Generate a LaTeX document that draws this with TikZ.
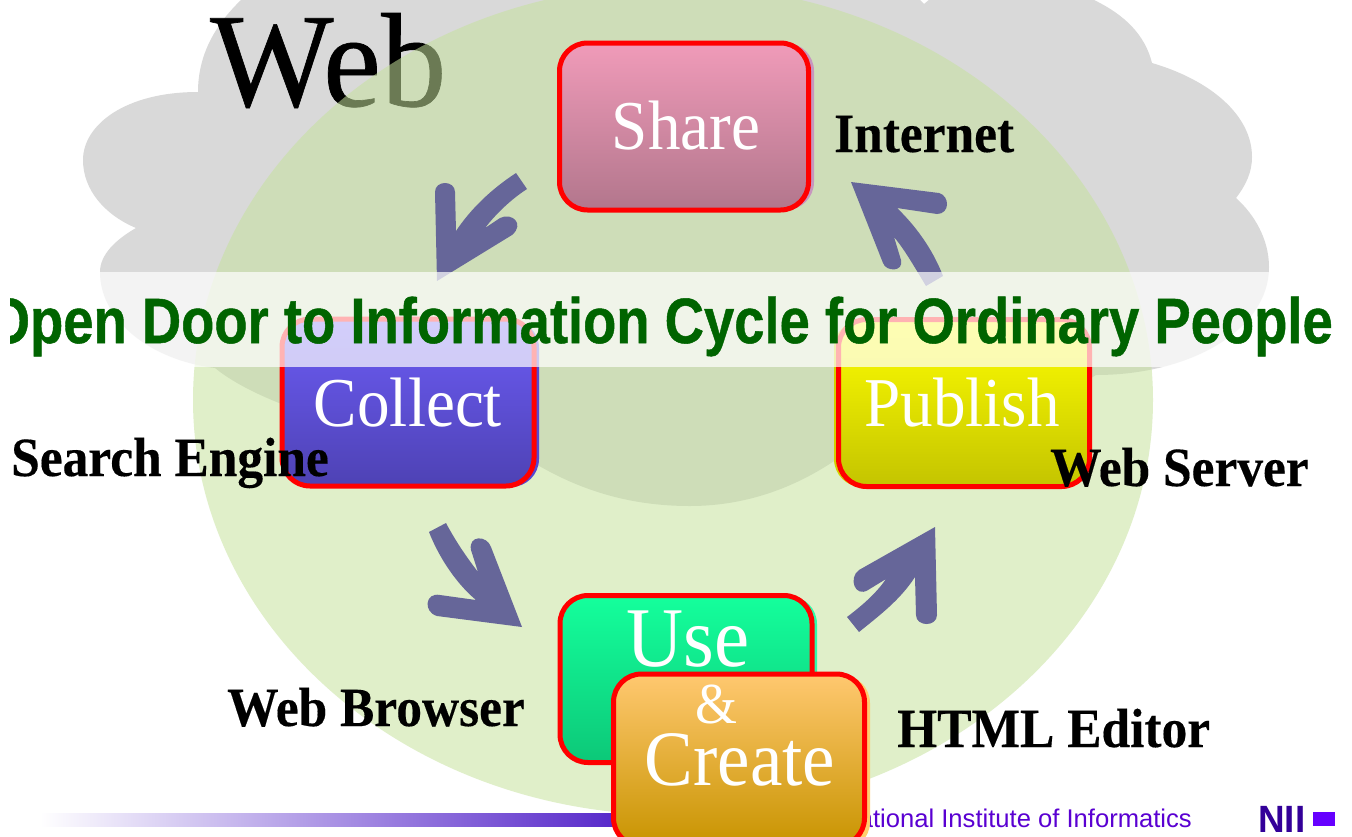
\documentclass[tikz,border=0pt]{standalone}
\usepackage{fontspec}
\setmainfont{Liberation Serif}
\setsansfont{Liberation Sans}
\newfontfamily\titlefont[FakeBold=0.8]{Liberation Sans Bold}
\newfontfamily\webfont[FakeBold=0.5]{Liberation Serif}
\newfontfamily\labelfont[FakeBold=0.25]{Liberation Serif Bold}
\definecolor{cloudgray}{HTML}{D9D9D9}
\definecolor{circlegreen}{RGB}{198,226,157}
\definecolor{arrowblue}{HTML}{666699}
\definecolor{titlegreen}{HTML}{006400}
\definecolor{niipurple}{HTML}{5A00D2}
\definecolor{barpurple}{RGB}{80,32,200}
\definecolor{logoblue}{RGB}{51,0,153}
\definecolor{logosquare}{RGB}{102,0,255}
\newcommand{\fsz}[1]{\fontsize{#1}{#1}\selectfont}
\newcommand{\narrowtext}[1]{\scalebox{0.93}[1]{#1}}
\tikzset{
  stepbox/.style={rounded corners=28pt,draw=red,line width=5pt,inner sep=0pt,text=white,align=center},
  boxshadow/.style={rounded corners=28pt},
  boxlabel/.style={text=white,inner sep=0pt,anchor=base},
  toollabel/.style={text=black,inner sep=0pt,anchor=base west,font=\labelfont\fsz{55.3}},
  blockarrow/.style={fill=arrowblue,draw=none}
}
\begin{document}
\begin{tikzpicture}[x=1pt,y=-1pt]
\clip (0,0) rectangle (1352,836);
\fill[white] (0,0) rectangle (1352,836);
% cloud
\fill[cloudgray] (241,0) .. controls (215,25) and (198,55) .. (198,92)
  .. controls (125,92) and (83,125) .. (83,160)
  .. controls (83,190) and (105,215) .. (136,228)
  .. controls (115,240) and (100,255) .. (100,272)
  .. controls (100,320) and (150,360) .. (215,368)
  .. controls (260,405) and (380,445) .. (500,440)
  .. controls (560,485) and (620,506) .. (690,506)
  .. controls (750,506) and (800,485) .. (840,457)
  .. controls (950,440) and (1040,410) .. (1096,375)
  .. controls (1190,375) and (1269,330) .. (1269,267)
  .. controls (1269,240) and (1255,215) .. (1236,198)
  .. controls (1246,185) and (1252,172) .. (1252,157)
  .. controls (1252,115) and (1210,80) .. (1152,63)
  .. controls (1145,35) and (1125,15) .. (1094,0)
  .. controls (1060,-25) and (975,-30) .. (930,-1)
  -- (924,4) -- (919,-1)
  .. controls (800,-40) and (350,-40) .. (241,0) -- cycle;
\node[inner sep=0pt,anchor=base west,font=\webfont\fsz{134}] (webtitle) at (210,106) {\scalebox{0.975}[1]{Web}};
% circle
\fill[circlegreen,opacity=0.54] (673,400) ellipse [x radius=480,y radius=415];
% footer
\shade[left color=white,right color=barpurple] (40,813) rectangle (640,826);
\node[inner sep=0pt,anchor=base east,text=niipurple,font=\sffamily\fsz{25.6}] (institute) at (1192,827) {National Institute of Informatics};
\node[inner sep=0pt,anchor=base west,text=logoblue,font=\sffamily\bfseries\fsz{38}] (niilogo) at (1258,832) {\scalebox{0.97}[1]{NII}};
\fill[logosquare] (1313,812) rectangle (1335,826);
% arrows
\fill[blockarrow] (437,281) -- (435,192) .. controls (435,180) and (455,180) .. (455,192)
  -- (456,231) .. controls (470,210) and (490,190) .. (516,173) -- (527,189)
  .. controls (510,200) and (495,215) .. (485,228) -- (500,218)
  .. controls (512,212) and (525,224) .. (512,235) -- cycle;
\fill[blockarrow] (429,532) .. controls (440,560) and (458,585) .. (476,600) -- (440,595)
  .. controls (425,592) and (423,612) .. (437,616) -- (522,627) -- (491,547)
  .. controls (487,535) and (468,535) .. (471,550) -- (478,572)
  .. controls (465,555) and (455,540) .. (446,523) -- cycle;
\fill[blockarrow] (935,527) -- (859,570) .. controls (848,578) and (855,598) .. (868,590)
  -- (886,579) .. controls (875,595) and (860,607) .. (847,617) -- (859,632)
  .. controls (880,615) and (900,600) .. (915,577) -- (916,615)
  .. controls (916,627) and (937,627) .. (937,615) -- cycle;
\fill[blockarrow] (851,182) -- (939,193) .. controls (950,196) and (950,214) .. (937,214)
  -- (897,208) .. controls (920,230) and (935,255) .. (943,276) -- (926,286)
  .. controls (915,268) and (905,250) .. (894,237) -- (901,260)
  .. controls (904,272) and (886,272) .. (883,263) -- cycle;
% shadows
\fill[boxshadow,fill={rgb,255:red,200;green,150;blue,190}] (564,43) rectangle (814,210);
\fill[boxshadow,fill={rgb,255:red,85;green,72;blue,210}] (284,320) rectangle (539,487);
\fill[boxshadow,fill={rgb,255:red,210;green,210;blue,0}] (834,320) rectangle (1088,487);
\fill[boxshadow,fill={rgb,255:red,50;green,250;blue,170}] (564,596) rectangle (817,763);
\fill[boxshadow,fill={rgb,255:red,255;green,205;blue,110}] (617,675) rectangle (870,850);
% boxes
\node[stepbox,minimum width=249pt,minimum height=167pt,top color={rgb,255:red,240;green,155;blue,185},bottom color={rgb,255:red,178;green,118;blue,140}] (sharebox) at (684,126.5) {};
\node[stepbox,minimum width=252pt,minimum height=167pt,top color={rgb,255:red,108;green,92;blue,245},bottom color={rgb,255:red,78;green,66;blue,180}] (collectbox) at (408,402.5) {};
\node[stepbox,minimum width=251pt,minimum height=167pt,top color={rgb,255:red,255;green,255;blue,0},bottom color={rgb,255:red,196;green,196;blue,0}] (publishbox) at (964,403) {};
\node[stepbox,minimum width=252pt,minimum height=167pt,top color={rgb,255:red,20;green,255;blue,156},bottom color={rgb,255:red,12;green,200;blue,120}] (usebox) at (686,679) {};
\node[boxlabel,font=\fsz{70}] (sharetext) at (686,149) {\narrowtext{Share}};
\node[boxlabel,font=\fsz{70}] (collecttext) at (408,426) {\narrowtext{Collect}};
\node[boxlabel,font=\fsz{70}] (publishtext) at (962,426) {\narrowtext{Publish}};
\node[boxlabel,font=\fsz{85}] (usetext) at (688,666) {\narrowtext{Use}};
\node[stepbox,minimum width=251pt,minimum height=172pt,top color={rgb,255:red,255;green,200;blue,112},bottom color={rgb,255:red,200;green,148;blue,0}] (createbox) at (739,760) {};
\node[boxlabel,font=\fsz{58}] (amptext) at (716,723) {\narrowtext{\&}};
\node[boxlabel,font=\fsz{78.5}] (createtext) at (740,785) {\narrowtext{Create}};
% band
\fill[white,opacity=0.7] (100,272) rectangle (1269,367);
% title
\begin{scope}
\clip (10,260) rectangle (1352,380);
\node[inner sep=0pt,anchor=base east,text=titlegreen,font=\titlefont\fsz{64}] (titletext) at (1333,343) {\scalebox{0.85}[1]{Open Door to Information Cycle for Ordinary People}};
\end{scope}
% tool labels
\node[toollabel] (internet) at (834,152) {\narrowtext{Internet}};
\node[toollabel] (search) at (11,476) {\narrowtext{Search Engine}};
\node[toollabel] (server) at (1050,486) {\narrowtext{Web Server}};
\node[toollabel] (browser) at (227,726) {\narrowtext{Web Browser}};
\node[toollabel] (editor) at (897,747) {\narrowtext{HTML Editor}};
\end{tikzpicture}
\end{document}
